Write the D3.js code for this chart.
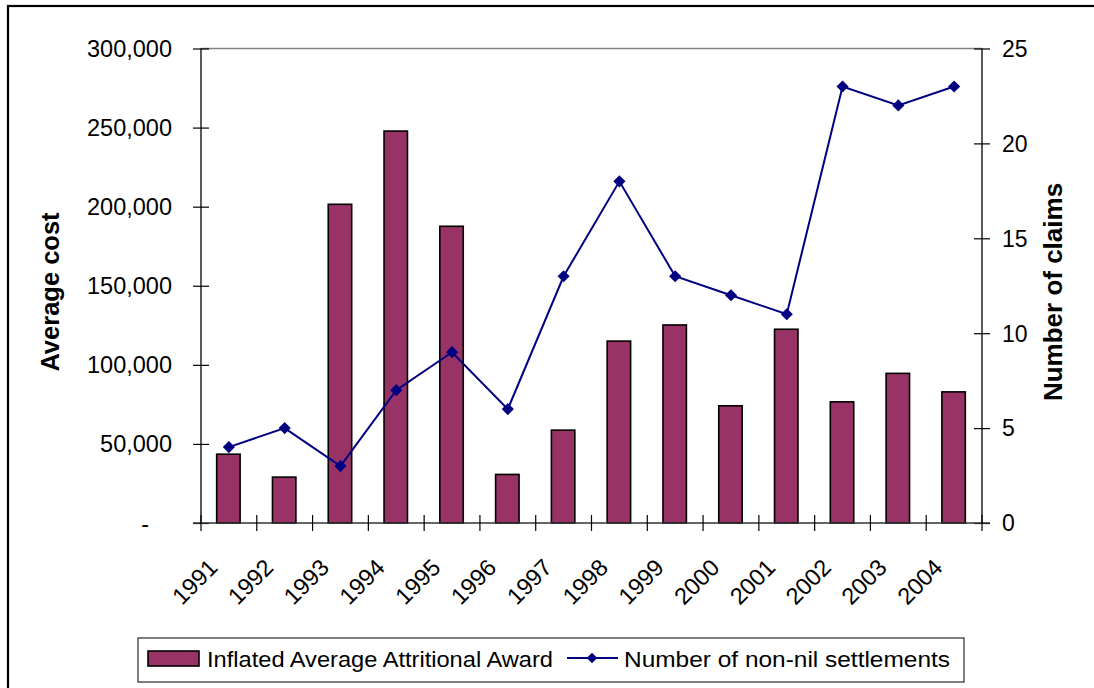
<!DOCTYPE html>
<html><head><meta charset="utf-8">
<script src="https://cdn.jsdelivr.net/npm/d3@7"></script>
<style>html,body{margin:0;padding:0;background:#fff;}svg{display:block;}</style>
</head><body>
<svg id="c" width="1094" height="688"></svg>
<script>
const years = ["1991","1992","1993","1994","1995","1996","1997","1998","1999","2000","2001","2002","2003","2004"];
const awards = [43500, 29000, 201500, 247800, 187600, 30700, 58700, 115000, 125200, 74100, 122500, 76600, 94600, 82900];
const claims = [4, 5, 3, 7, 9, 6, 13, 18, 13, 12, 11, 23, 22, 23];
const leftTicks = [0, 50000, 100000, 150000, 200000, 250000, 300000];
const rightTicks = [0, 5, 10, 15, 20, 25];
const seriesNames = ["Inflated Average Attritional Award", "Number of non-nil settlements"];
const axisTitles = ["Average cost", "Number of claims"];

const svg = d3.select("#c");
const font = "Liberation Sans, Arial, sans-serif";
const L = 201, R = 982, T = 48.5, B = 523;

// outer frame
svg.append("rect").attr("x", 8).attr("y", 6).attr("width", 1200).attr("height", 800)
  .attr("fill", "none").attr("stroke", "#000").attr("stroke-width", 2.2);

const x = d3.scaleBand().domain(years).range([L, R]).paddingInner(0).paddingOuter(0);
const yL = d3.scaleLinear().domain([0, 300000]).range([B, T]);
const yR = d3.scaleLinear().domain([0, 25]).range([B, T]);

// top plot border
svg.append("line").attr("x1", L).attr("x2", R).attr("y1", T).attr("y2", T)
  .attr("stroke", "#808080").attr("stroke-width", 1.5);

// bars
const bw = x.bandwidth() * 0.42;
svg.append("g").selectAll("rect").data(years).join("rect")
  .attr("x", (d) => x(d) + x.bandwidth() / 2 - bw / 2 - 0.5)
  .attr("y", (d, i) => yL(awards[i]))
  .attr("width", bw)
  .attr("height", (d, i) => B - yL(awards[i]))
  .attr("fill", "#993366").attr("stroke", "#000").attr("stroke-width", 1.6);

// left axis
const gl = svg.append("g").attr("transform", `translate(${L},0)`)
  .call(d3.axisLeft(yL).tickValues(leftTicks).tickSize(8).tickPadding(21)
    .tickFormat(d => d === 0 ? "-" : d3.format(",")(d)));
gl.select(".domain").attr("stroke", "#222").attr("stroke-width", 1.5).attr("d", `M0,${T}V${B}`);
gl.selectAll(".tick line").attr("x1", 8).attr("x2", -8).attr("stroke", "#000").attr("stroke-width", 1.2);
gl.selectAll(".tick text").attr("font-family", font).attr("font-size", 23.5).attr("fill", "#000")
  .attr("dy", "0.34em")
  .attr("x", d => d === 0 ? -52 : -29);

// right axis
const gr = svg.append("g").attr("transform", `translate(${R},0)`)
  .call(d3.axisRight(yR).tickValues(rightTicks).tickSize(8).tickPadding(20).tickFormat(d3.format("d")));
gr.select(".domain").attr("stroke", "#222").attr("stroke-width", 1.5).attr("d", `M0,${T}V${B}`);
gr.selectAll(".tick line").attr("x1", -8).attr("x2", 8).attr("stroke", "#000").attr("stroke-width", 1.2);
gr.selectAll(".tick text").attr("font-family", font).attr("font-size", 23).attr("fill", "#000")
  .attr("dy", "0.34em").attr("x", 20);

// bottom axis
const gb = svg.append("g").attr("transform", `translate(0,${B})`);
gb.append("line").attr("x1", L - 8).attr("x2", R + 8).attr("y1", 0).attr("y2", 0)
  .attr("stroke", "#333").attr("stroke-width", 1.5);
const bounds = years.map(d => x(d)).concat([R]);
gb.selectAll("line.tk").data(bounds).join("line").attr("class", "tk")
  .attr("x1", d => d).attr("x2", d => d).attr("y1", -8).attr("y2", 8)
  .attr("stroke", "#000").attr("stroke-width", 1.2);
gb.selectAll("text").data(years).join("text")
  .attr("transform", d => `translate(${x(d) + x.bandwidth() / 2 - 10},${46}) rotate(-45)`)
  .attr("text-anchor", "end")
  .attr("font-family", font).attr("font-size", 23.5).attr("fill", "#000")
  .text(d => d);

// line series
const line = d3.line().x((d, i) => x(years[i]) + x.bandwidth() / 2).y(d => yR(d));
svg.append("path").datum(claims).attr("d", line)
  .attr("fill", "none").attr("stroke", "#000080").attr("stroke-width", 2);
svg.append("g").selectAll("path").data(claims).join("path")
  .attr("d", d3.symbol().type(d3.symbolSquare).size(74))
  .attr("transform", (d, i) => `translate(${x(years[i]) + x.bandwidth() / 2},${yR(d)}) rotate(45)`)
  .attr("fill", "#000080");

// axis titles
svg.append("text").attr("transform", "translate(59,292) rotate(-90)")
  .attr("text-anchor", "middle").attr("font-family", font).attr("font-weight", "bold")
  .attr("font-size", 25.5).text(axisTitles[0]);
svg.append("text").attr("transform", "translate(1062,292) rotate(-90)")
  .attr("text-anchor", "middle").attr("font-family", font).attr("font-weight", "bold")
  .attr("font-size", 26).text(axisTitles[1]);

// legend
const lg = svg.append("g");
lg.append("rect").attr("x", 138).attr("y", 638).attr("width", 826).attr("height", 44)
  .attr("fill", "#fff").attr("stroke", "#000").attr("stroke-width", 1);
lg.append("rect").attr("x", 148).attr("y", 651).attr("width", 51).attr("height", 15)
  .attr("fill", "#993366").attr("stroke", "#000").attr("stroke-width", 1.6);
lg.append("text").attr("x", 207).attr("y", 667).attr("font-family", font).attr("font-size", 22.5)
  .attr("textLength", 346).attr("lengthAdjust", "spacingAndGlyphs").text(seriesNames[0]);
lg.append("line").attr("x1", 567).attr("x2", 618).attr("y1", 658).attr("y2", 658)
  .attr("stroke", "#000080").attr("stroke-width", 2);
lg.append("path").attr("d", d3.symbol().type(d3.symbolSquare).size(56))
  .attr("transform", "translate(592,658) rotate(45)").attr("fill", "#000080");
lg.append("text").attr("x", 624).attr("y", 667).attr("font-family", font).attr("font-size", 22.5)
  .attr("textLength", 326).attr("lengthAdjust", "spacingAndGlyphs").text(seriesNames[1]);
</script>
</body></html>
